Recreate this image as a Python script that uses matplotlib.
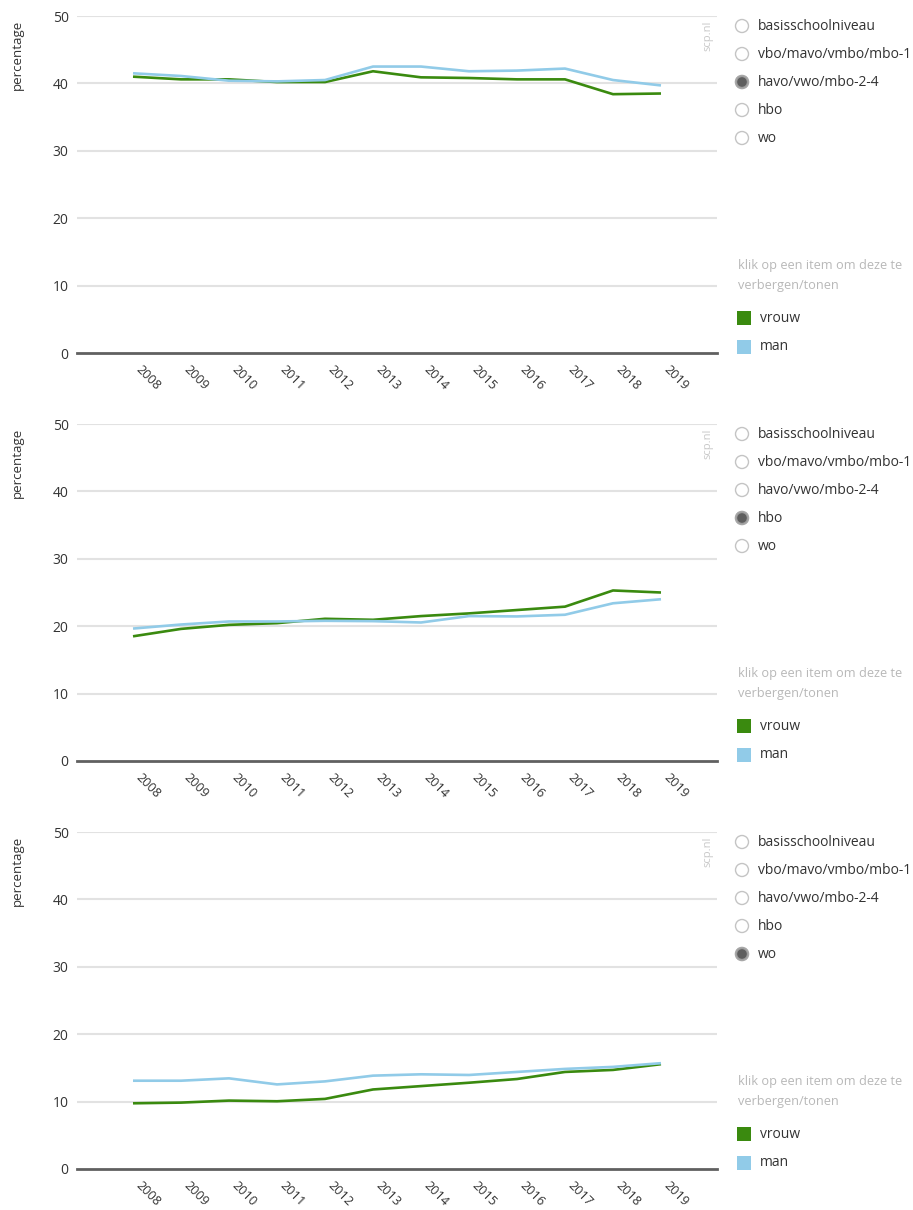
import matplotlib
matplotlib.use('Agg')
import matplotlib.pyplot as plt
from matplotlib.patches import Circle, Rectangle

plt.rcParams['font.family'] = ['Open Sans', 'DejaVu Sans']

# ---- data -------------------------------------------------------------
years = [2008, 2009, 2010, 2011, 2012, 2013, 2014, 2015, 2016, 2017, 2018, 2019]
levels = ['basisschoolniveau', 'vbo/mavo/vmbo/mbo-1', 'havo/vwo/mbo-2-4', 'hbo', 'wo']
series_names = ['vrouw', 'man']

vrouw_havo = [41.0, 40.6, 40.6, 40.2, 40.2, 41.8, 40.9, 40.8, 40.6, 40.6, 38.4, 38.5]
man_havo = [41.5, 41.1, 40.4, 40.3, 40.5, 42.5, 42.5, 41.8, 41.9, 42.2, 40.5, 39.7]

vrouw_hbo = [18.5, 19.6, 20.2, 20.45, 21.1, 20.95, 21.5, 21.9, 22.4, 22.9, 25.3, 25.0]
man_hbo = [19.65, 20.25, 20.7, 20.7, 20.8, 20.75, 20.55, 21.5, 21.45, 21.7, 23.4, 24.0]

vrouw_wo = [9.75, 9.85, 10.15, 10.05, 10.4, 11.8, 12.3, 12.8, 13.35, 14.4, 14.7, 15.55]
man_wo = [13.1, 13.1, 13.45, 12.55, 13.0, 13.85, 14.05, 13.95, 14.4, 14.85, 15.15, 15.7]

panels = [
    ('havo/vwo/mbo-2-4', vrouw_havo, man_havo),
    ('hbo', vrouw_hbo, man_hbo),
    ('wo', vrouw_wo, man_wo),
]

yticks = [0, 10, 20, 30, 40, 50]

# ---- style --------------------------------------------------------------
GREEN = '#3a8a0f'
BLUE = '#91cbe8'
GRID = '#e2e2e2'
TEXT = '#333333'
LIGHT = '#b8b8b8'

W, H = 913, 1210
fig = plt.figure(figsize=(W / 100, H / 100), dpi=100)

# panel tops (pixel y of the 50-gridline)
panel_tops = [16, 424, 832]
ax_left, ax_right = 77, 717
ax_h = 337

overlay = fig.add_axes([0, 0, 1, 1], zorder=5)
overlay.set_xlim(0, W)
overlay.set_ylim(H, 0)
overlay.axis('off')
overlay.patch.set_alpha(0)

for (selected, vrouw, man), top in zip(panels, panel_tops):
    ax = fig.add_axes([ax_left / W, 1 - (top + ax_h) / H,
                       (ax_right - ax_left) / W, ax_h / H])
    ax.plot(years, vrouw, color=GREEN, lw=1.9, solid_capstyle='butt', zorder=3)
    ax.plot(years, man, color=BLUE, lw=1.9, solid_capstyle='butt', zorder=3)
    ax.set_xlim(years[0] - 1.167, years[-1] + 1.167)
    ax.set_ylim(0, 50)
    ax.set_yticks(yticks)
    ax.set_xticks(years)
    ax.set_xticklabels([str(y) for y in years], rotation=-45,
                       ha='left', va='top', rotation_mode='default')
    for y in yticks[1:]:
        ax.axhline(y, color=GRID, lw=1.5, zorder=1)
    ax.axhline(0, color='#606060', lw=2.0, zorder=2, clip_on=False)
    for s in ax.spines.values():
        s.set_visible(False)
    ax.tick_params(axis='y', length=0, labelsize=10, colors=TEXT, pad=6)
    ax.tick_params(axis='x', length=0, labelsize=9.2, colors=TEXT, pad=7)
    ax.patch.set_alpha(0)

    ax.text(-0.093, 0.99, 'percentage', transform=ax.transAxes, rotation=90,
            ha='center', va='top', fontsize=9.5, color=TEXT)
    overlay.text(708, top + 5, 'scp.nl', rotation=90, ha='center', va='top',
                 fontsize=8, color='#c8c8c8')

    # radio buttons
    for i, name in enumerate(levels):
        cy = top + 10 + 28 * i
        overlay.add_patch(Circle((742, cy), 6.5, facecolor='white',
                                 edgecolor='#c4c4c4', lw=1.0))
        if name == selected:
            overlay.add_patch(Circle((742, cy), 6.5, facecolor='#9a9a9a',
                                     edgecolor='#a8a8a8', lw=1.0))
            overlay.add_patch(Circle((742, cy), 4.8, facecolor='#5e5e5e',
                                     edgecolor='none'))
        overlay.text(758, cy, name, ha='left', va='center',
                     fontsize=10, color=TEXT)

    overlay.text(738, top + 250, 'klik op een item om deze te', ha='left',
                 va='center', fontsize=9.2, color=LIGHT)
    overlay.text(738, top + 269, 'verbergen/tonen', ha='left',
                 va='center', fontsize=9.2, color=LIGHT)

    for j, (name, col) in enumerate(zip(series_names, [GREEN, BLUE])):
        cy = top + 302 + 29 * j
        overlay.add_patch(Rectangle((737, cy - 7), 14, 14, facecolor=col,
                                    edgecolor='none'))
        overlay.text(760, cy, name, ha='left', va='center',
                     fontsize=10, color=TEXT)

fig.savefig('out.png', dpi=100)
